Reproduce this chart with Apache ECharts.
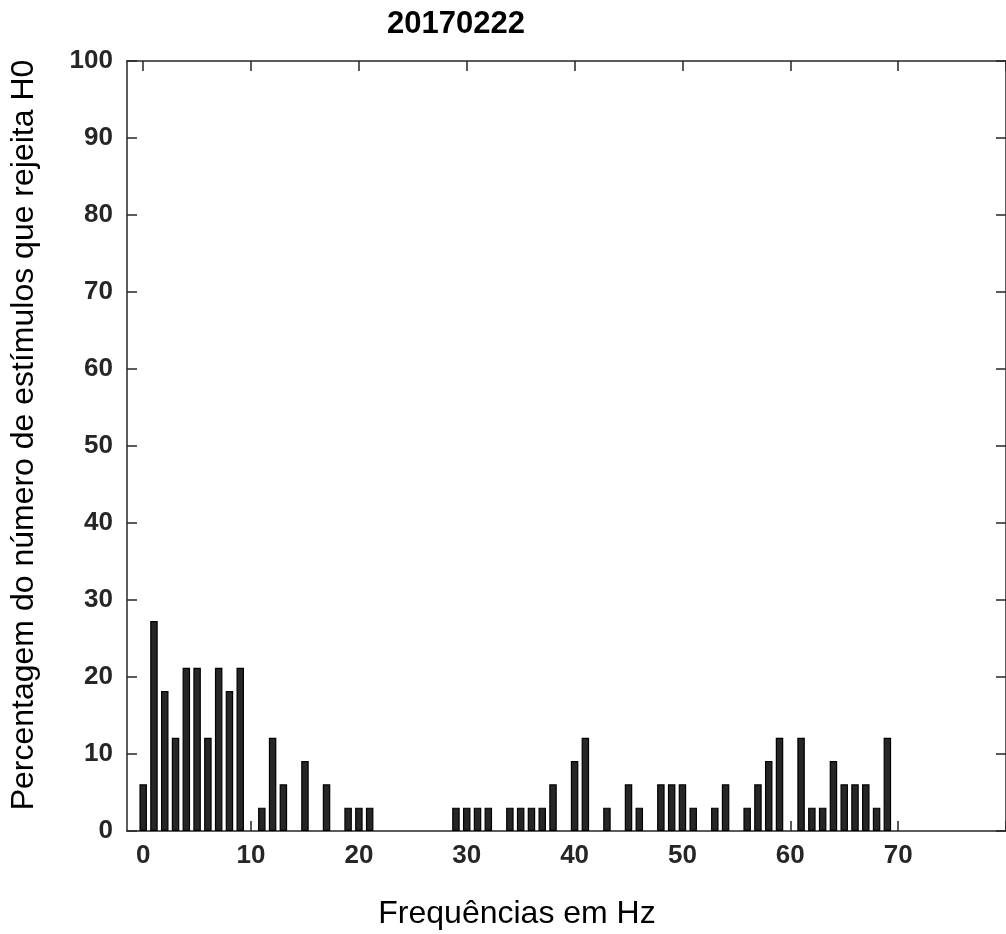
<!DOCTYPE html>
<html>
<head>
<meta charset="utf-8">
<script src="https://cdn.jsdelivr.net/npm/echarts@6/dist/echarts.min.js"></script>
<style>
html,body{margin:0;padding:0;background:#fff;}
#chart{width:1006px;height:934px;}
</style>
</head>
<body>
<div id="chart"></div>
<script>
const titleText = '20170222';
const xName = 'Frequências em Hz';
const yName = 'Percentagem do número de estímulos que rejeita H0';
const frequencies = [];
for (let i = 0; i <= 79; i++) frequencies.push(i);
const percentages = [
  6.06, 27.27, 18.18, 12.12, 21.21, 21.21, 12.12, 21.21, 18.18, 21.21,
  0, 3.03, 12.12, 6.06, 0, 9.09, 0, 6.06, 0, 3.03,
  3.03, 3.03, 0, 0, 0, 0, 0, 0, 0, 3.03,
  3.03, 3.03, 3.03, 0, 3.03, 3.03, 3.03, 3.03, 6.06, 0,
  9.09, 12.12, 0, 3.03, 0, 6.06, 3.03, 0, 6.06, 6.06,
  6.06, 3.03, 0, 3.03, 6.06, 0, 3.03, 6.06, 9.09, 12.12,
  0, 12.12, 3.03, 3.03, 9.09, 6.06, 6.06, 6.06, 3.03, 12.12,
  0, 0, 0, 0, 0, 0, 0, 0, 0, 0
];
const xTicks = [0, 10, 20, 30, 40, 50, 60, 70, 80];
const xTickLabels = [0, 10, 20, 30, 40, 50, 60, 70];
const yTicks = [0, 10, 20, 30, 40, 50, 60, 70, 80, 90, 100];

const barData = frequencies.map((f, i) => [f, percentages[i]]).filter(d => d[1] > 0);

const chart = echarts.init(document.getElementById('chart'));
const axisColor = '#262626';
const fontFam = '"Liberation Sans", Arial, sans-serif';

function xAxisDef(pos, showLabel) {
  return {
    type: 'value', min: -1.5, max: 80, position: pos,
    axisLine: { show: true, onZero: false, lineStyle: { color: axisColor, width: 1.5 } },
    axisTick: { show: true, inside: true, length: 10, customValues: xTicks, lineStyle: { color: axisColor, width: 1.5 } },
    axisLabel: { show: showLabel, margin: 12, color: '#262626', fontSize: 26, fontWeight: 'bold', fontFamily: fontFam,
      customValues: xTickLabels, formatter: v => String(v) },
    splitLine: { show: false }
  };
}
function yAxisDef(pos, showLabel) {
  return {
    type: 'value', min: 0, max: 100, interval: 10, position: pos,
    axisLine: { show: true, onZero: false, lineStyle: { color: axisColor, width: 1.5 } },
    axisTick: { show: true, inside: true, length: 10, customValues: yTicks, lineStyle: { color: axisColor, width: 1.5 } },
    axisLabel: { show: showLabel, margin: 14, color: '#262626', fontSize: 26, fontWeight: 'bold', fontFamily: fontFam,
      customValues: yTicks, formatter: v => String(v) },
    splitLine: { show: false }
  };
}

chart.setOption({
  animation: false,
  backgroundColor: '#fff',
  grid: { left: 127, top: 61, right: -4, bottom: 103, containLabel: false },
  graphic: [
    { type: 'text', style: { text: titleText, font: 'bold 31px ' + fontFam, fill: '#000', textAlign: 'center', textVerticalAlign: 'middle' }, x: 456, y: 24 },
    { type: 'text', style: { text: xName, font: '32px ' + fontFam, fill: '#000', textAlign: 'center', textVerticalAlign: 'middle' }, x: 517, y: 914 },
    { type: 'text', style: { text: yName, font: '32px ' + fontFam, fill: '#000', textAlign: 'center', textVerticalAlign: 'middle' }, x: 24, y: 435, rotation: Math.PI / 2 }
  ],
  xAxis: [xAxisDef('bottom', true), xAxisDef('top', false)],
  yAxis: [yAxisDef('left', true), yAxisDef('right', false)],
  series: [{
    type: 'bar',
    xAxisIndex: 0, yAxisIndex: 0,
    data: barData,
    barWidth: 7.5,
    itemStyle: { color: '#262626', borderColor: '#000', borderWidth: 1.2 }
  }]
});
</script>
</body>
</html>
